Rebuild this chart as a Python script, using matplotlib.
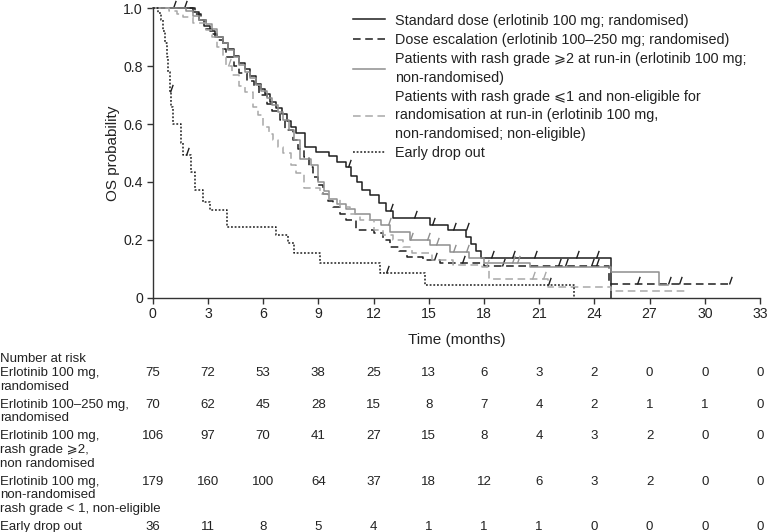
import numpy as np
import matplotlib
matplotlib.use("Agg")
import matplotlib.pyplot as plt
from matplotlib.path import Path
from matplotlib.transforms import blended_transform_factory

plt.rcParams['font.family'] = ['Liberation Sans', 'DejaVu Sans']

# ---- KM step data (time in months, survival after each step) ----
t_std = [0, 2.2, 2.5, 2.8, 3.1, 3.4, 3.8, 4.1, 4.4, 4.7, 5.0, 5.3, 5.6, 5.9, 6.1, 6.4,
         6.7, 7.0, 7.3, 7.5, 7.8, 8.3, 8.9, 9.6, 10.0, 10.5, 10.8, 11.1, 11.4, 11.8,
         12.3, 12.7, 13.05, 15.05, 16.05, 17.05, 17.3, 17.55, 17.85, 24.9]
s_std = [1.0, 0.987, 0.96, 0.94, 0.92, 0.90, 0.88, 0.86, 0.835, 0.81, 0.79, 0.765, 0.74,
         0.72, 0.705, 0.675, 0.655, 0.635, 0.61, 0.59, 0.568, 0.52, 0.505, 0.488, 0.47,
         0.453, 0.42, 0.40, 0.373, 0.355, 0.327, 0.30, 0.275, 0.252, 0.234, 0.21, 0.185,
         0.16, 0.136, 0.0]
c_std = [1.1, 1.7, 10.6, 12.9, 14.2, 15.2, 16.3, 17.0, 18.4, 19.5, 20.7, 23.0, 24.1]

t_esc = [0, 2.3, 2.6, 2.9, 3.2, 3.5, 3.8, 4.0, 4.4, 4.7, 5.1, 5.5, 5.8, 6.2, 6.5, 6.9,
         7.2, 7.6, 7.9, 8.2, 8.5, 8.7, 9.0, 9.25, 9.5, 9.8, 10.2, 10.5, 11.07, 12.0, 12.5,
         12.9, 13.4, 13.8, 14.7, 15.6, 18.0, 24.8, 31.35]
s_esc = [1.0, 0.98, 0.96, 0.93, 0.91, 0.89, 0.86, 0.83, 0.80, 0.775, 0.75, 0.73, 0.70,
         0.67, 0.645, 0.614, 0.58, 0.545, 0.515, 0.487, 0.45, 0.418, 0.39, 0.36, 0.335,
         0.315, 0.29, 0.268, 0.234, 0.222, 0.20, 0.176, 0.16, 0.142, 0.13, 0.12, 0.109,
         0.047, 0.047]
c_esc = [15.3, 16.8, 19.0, 22.0, 22.4, 23.8, 24.1, 26.3, 28.0, 28.6, 31.3]

t_rash2 = [0, 1.8, 2.2, 2.5, 2.9, 3.2, 3.5, 3.8, 4.1, 4.4, 4.7, 5.0, 5.3, 5.6, 5.9, 6.2,
           6.5, 6.8, 7.1, 7.4, 7.7, 8.0, 8.6, 9.0, 9.3, 9.6, 10.0, 10.5, 11.0, 11.8, 12.4,
           12.9, 14.0, 15.05, 16.15, 17.2, 18.0, 20.5, 24.9, 27.5, 28.0]
s_rash2 = [1.0, 0.99, 0.975, 0.96, 0.945, 0.93, 0.90, 0.88, 0.855, 0.83, 0.805, 0.78,
           0.76, 0.735, 0.715, 0.69, 0.665, 0.64, 0.615, 0.58, 0.545, 0.48, 0.46, 0.40,
           0.37, 0.34, 0.325, 0.305, 0.29, 0.269, 0.25, 0.228, 0.20, 0.182, 0.159, 0.136,
           0.12, 0.105, 0.09, 0.045, 0.045]
c_rash2 = [12.8, 14.0, 14.9, 15.4, 16.3, 17.0, 19.5, 19.8]

t_rash1 = [0, 0.9, 1.3, 1.66, 2.2, 2.9, 3.2, 3.5, 3.8, 4.0, 4.3, 4.7, 5.0, 5.46, 5.7, 6.0,
           6.3, 6.55, 6.8, 7.1, 7.5, 7.8, 8.2, 9.1, 9.6, 10.2, 10.7, 11.25, 12.0, 12.5,
           13.05, 13.6, 14.1, 15.2, 16.3, 17.9, 18.3, 21.5, 24.9, 28.9]
s_rash1 = [1.0, 0.99, 0.98, 0.97, 0.95, 0.925, 0.90, 0.867, 0.83, 0.80, 0.77, 0.73, 0.71,
           0.66, 0.63, 0.59, 0.565, 0.545, 0.52, 0.50, 0.46, 0.43, 0.38, 0.36, 0.34, 0.315,
           0.29, 0.268, 0.234, 0.215, 0.20, 0.175, 0.153, 0.13, 0.113, 0.105, 0.065, 0.038,
           0.024, 0.024]
c_rash1 = [4.1, 18.1, 20.6, 21.2]

t_drop = [0, 0.29, 0.47, 0.55, 0.65, 0.75, 0.83, 0.92, 1.0, 1.1, 1.55, 1.65, 2.1, 2.28,
          2.73, 3.1, 4.05, 6.71, 7.35, 7.7, 9.1, 12.35, 14.8, 22.9]
s_drop = [1.0, 0.984, 0.96, 0.92, 0.88, 0.83, 0.78, 0.71, 0.66, 0.60, 0.534, 0.494, 0.436,
          0.373, 0.332, 0.303, 0.246, 0.217, 0.188, 0.154, 0.119, 0.084, 0.044, 0.0]
c_drop = [0.95, 1.8, 12.7, 21.5]

labels = [
    "Standard dose (erlotinib 100 mg; randomised)",
    "Dose escalation (erlotinib 100\u2013250 mg; randomised)",
    "Patients with rash grade \u2a7e2 at run-in (erlotinib 100 mg;\nnon-randomised)",
    "Patients with rash grade \u2a7d1 and non-eligible for\nrandomisation at run-in (erlotinib 100 mg,\nnon-randomised; non-eligible)",
    "Early drop out",
]

# ---- number at risk table ----
risk_times = [0, 3, 6, 9, 12, 15, 18, 21, 24, 27, 30, 33]
risk_labels = [
    "Erlotinib 100 mg,\nrandomised",
    "Erlotinib 100\u2013250 mg,\nrandomised",
    "Erlotinib 100 mg,\nrash grade \u2a7e2,\nnon randomised",
    "Erlotinib 100 mg,\nnon-randomised\nrash grade < 1, non-eligible",
    "Early drop out",
]
risk_std = [75, 72, 53, 38, 25, 13, 6, 3, 2, 0, 0, 0]
risk_esc = [70, 62, 45, 28, 15, 8, 7, 4, 2, 1, 1, 0]
risk_rash2 = [106, 97, 70, 41, 27, 15, 8, 4, 3, 2, 0, 0]
risk_rash1 = [179, 160, 100, 64, 37, 18, 12, 6, 3, 2, 0, 0]
risk_drop = [36, 11, 8, 5, 4, 1, 1, 1, 0, 0, 0, 0]

# ---- drawing ----
W, H = 768, 532
fig = plt.figure(figsize=(W / 100, H / 100), dpi=100)
ax = fig.add_axes([152.7 / W, 1 - 297.7 / H, (760 - 152.7) / W, (297.7 - 8.3) / H])

dark = '#1e1e1e'
grey1 = '#8e8e8e'
grey2 = '#a8a8a8'
styles = [
    dict(color=dark, ls='-'),
    dict(color=dark, ls=(0, (5, 3))),
    dict(color=grey1, ls='-'),
    dict(color=grey2, ls=(0, (5, 3))),
    dict(color=dark, ls=(0, (1.2, 1.2))),
]
curves = [(t_std, s_std, c_std), (t_esc, s_esc, c_esc), (t_rash2, s_rash2, c_rash2),
          (t_rash1, s_rash1, c_rash1), (t_drop, s_drop, c_drop)]

tick_marker = Path([(0, 0), (0.35, 1)])

for (t, s, c), st, lab in zip(curves, styles, labels):
    ax.step(t, s, where='post', lw=1.1, label=lab, clip_on=False, **st)
    t = np.asarray(t)
    s = np.asarray(s)
    idx = np.searchsorted(t, c, side='right') - 1
    ax.plot(c, s[idx], ls='none', marker=tick_marker, ms=11, mew=1.0,
            mec=st['color'], mfc='none', clip_on=False)

ax.set_xlim(0, 33)
ax.set_ylim(0, 1)
ax.set_xticks(risk_times)
ax.set_yticks([0, 0.2, 0.4, 0.6, 0.8, 1.0])
ax.set_yticklabels(['0', '0.2', '0.4', '0.6', '0.8', '1.0'])
for sp in ['top', 'right']:
    ax.spines[sp].set_visible(False)
for sp in ['left', 'bottom']:
    ax.spines[sp].set_color('#333333')
    ax.spines[sp].set_linewidth(1.0)
ax.tick_params(labelsize=10.2, length=4, width=1.0, color='#333333',
               labelcolor='#222222', pad=3)
ax.set_xlabel('Time (months)', fontsize=11, color='#222222')
ax.set_ylabel('OS probability', fontsize=11, color='#222222')
ax.xaxis.set_label_coords(0.5, -0.146)
ax.xaxis.label.set_va('center')
ax.yaxis.set_label_coords(-0.066, 0.5)
ax.yaxis.label.set_va('center')

leg = ax.legend(loc='upper left', bbox_to_anchor=(0.33, 0.982), frameon=False,
                fontsize=10.4, handlelength=2.2, handletextpad=0.7,
                borderpad=0, borderaxespad=0, labelspacing=0.38)
for txt in leg.get_texts():
    txt.set_linespacing(1.38)
    txt.set_color('#222222')

# risk table
trans = blended_transform_factory(ax.transData, fig.transFigure)
fs = 9.5
fig.text(0.0, 1 - 359 / H, 'Number at risk', fontsize=fs, va='center', color='#222222')
rows = [risk_std, risk_esc, risk_rash2, risk_rash1, risk_drop]
y = 373.0
line_h = 13.6
for lab, counts in zip(risk_labels, rows):
    lines = lab.split('\n')
    for j, ln in enumerate(lines):
        fig.text(0.0, 1 - (y + j * line_h) / H, ln, fontsize=fs, va='center',
                 color='#222222')
    for tt, n in zip(risk_times, counts):
        fig.text(tt, 1 - y / H, str(n), transform=trans, fontsize=fs, ha='center',
                 va='center', color='#222222')
    y += len(lines) * line_h + 4.5

fig.savefig('out.png', dpi=100)
